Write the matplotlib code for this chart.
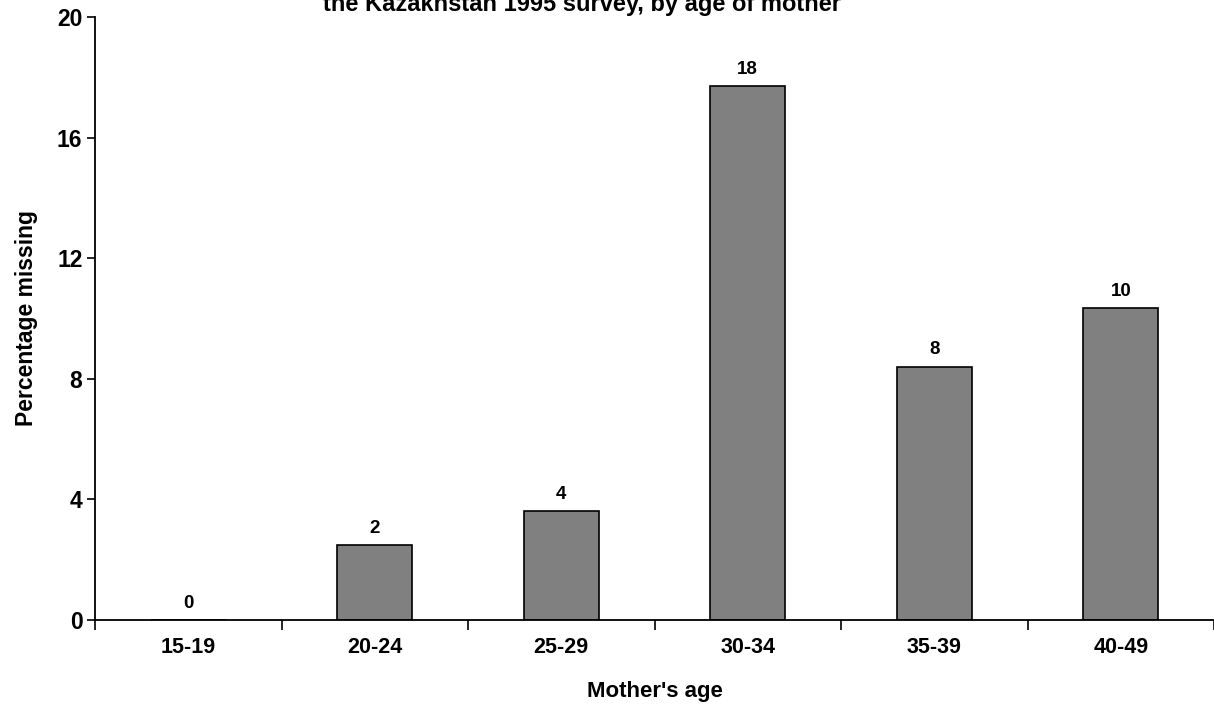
import matplotlib as mpl
mpl.use('Agg')
import matplotlib.pyplot as plt
import numpy as np

# ── data ──────────────────────────────────────────────────────────────────
age_groups = ['15-19', '20-24', '25-29', '30-34', '35-39', '40-49']
pct_missing = [0.0, 2.48, 3.6, 17.7, 8.4, 10.35]
y_ticks = [0, 4, 8, 12, 16, 20]

title_text = 'the Kazakhstan 1995 survey, by age of mother'
x_label = "Mother's age"
y_label = 'Percentage missing'

plt.rcParams['font.family'] = ['Liberation Sans', 'DejaVu Sans']
plt.rcParams['font.weight'] = 'bold'

W, H = 1214, 710
fig = plt.figure(figsize=(W / 100, H / 100), dpi=100)
ax = fig.add_axes([95 / W, 1 - 620 / H, (W - 95) / W, 603 / H])

x = np.arange(len(age_groups))
ax.bar(x, pct_missing, width=0.4, color='#808080', edgecolor='black', linewidth=1.2)

for xi, v in zip(x, pct_missing):
    ax.annotate('%d' % round(v), (xi, v), xytext=(0, 6), textcoords='offset points',
                ha='center', va='bottom', fontsize=13.5, fontweight='bold')

ax.set_xlim(-0.5, len(age_groups) - 0.5)
ax.set_ylim(0, 20)

# category labels at the centres, tick marks at the boundaries
ax.set_xticks(x)
ax.set_xticklabels(age_groups, fontsize=15.5, fontweight='bold')
ax.tick_params(axis='x', which='major', length=0, pad=12)
ax.set_xticks(np.arange(-0.5, len(age_groups)), minor=True)
ax.tick_params(axis='x', which='minor', length=7, width=1.2, direction='out')

ax.set_yticks(y_ticks)
ax.set_yticklabels([str(t) for t in y_ticks], fontsize=16.5, fontweight='bold')
ax.tick_params(axis='y', length=6, width=1.2, direction='out', pad=3)

for s in ['top', 'right']:
    ax.spines[s].set_visible(False)
for s in ['left', 'bottom']:
    ax.spines[s].set_linewidth(1.3)

ax.set_xlabel(x_label, fontsize=16, fontweight='bold', labelpad=17)
ax.set_ylabel(y_label, fontsize=16.5, fontweight='bold', labelpad=14)

# title sits partly above the top edge, as in the reference
fig.text(582 / W, 1 - 11 / H, title_text, ha='center', va='baseline',
         fontsize=17, fontweight='bold')

fig.savefig('out.png', dpi=100)
